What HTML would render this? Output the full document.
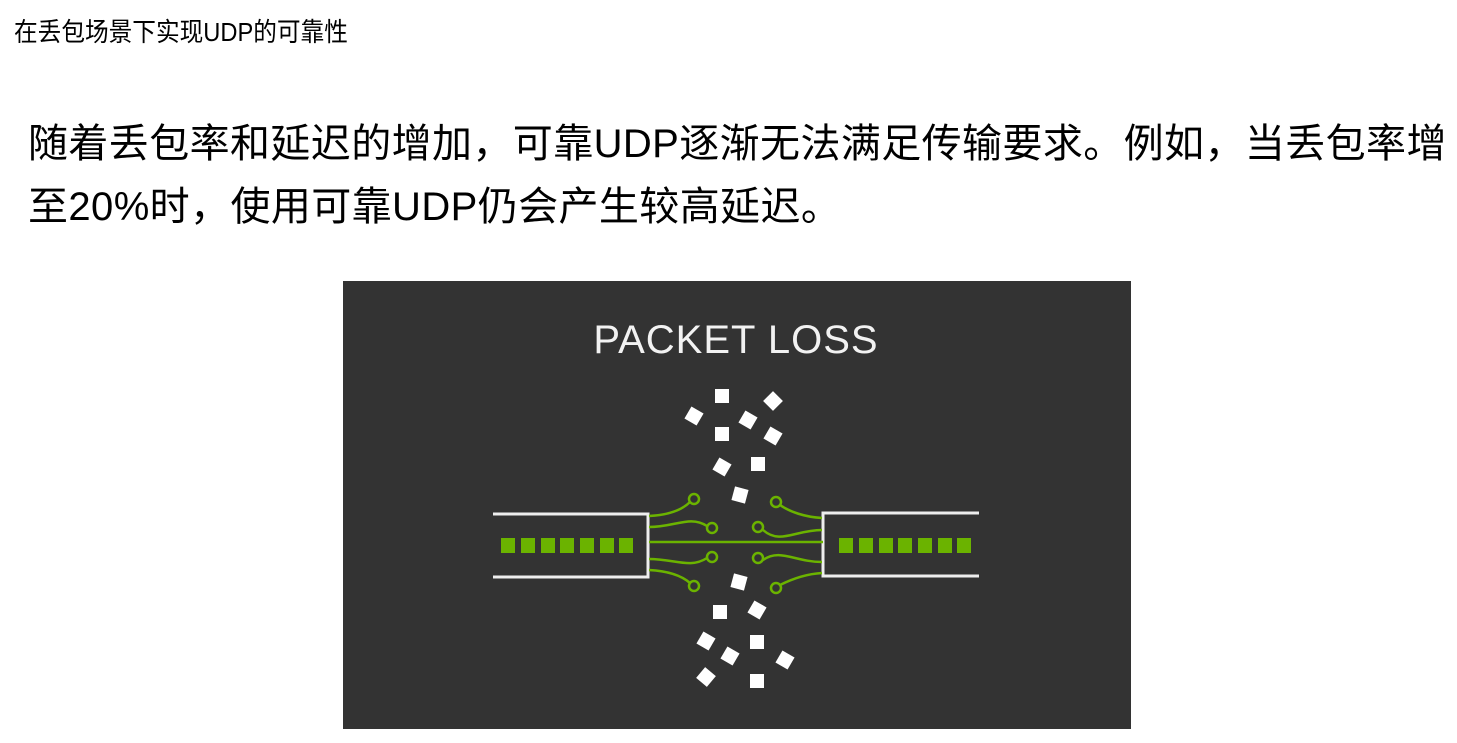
<!DOCTYPE html>
<html><head><meta charset="utf-8"><style>
body{margin:0;width:1457px;height:743px;background:#fff;position:relative;overflow:hidden;font-family:"Liberation Sans","Noto Sans CJK SC",sans-serif;color:#000}
.t{position:absolute;left:14px;top:15px;font-size:26px;line-height:34px;white-space:nowrap;transform:scaleX(0.91);transform-origin:0 0}
.p{position:absolute;left:28px;top:113px;font-size:40px;line-height:63px;white-space:nowrap;letter-spacing:0.4px}
svg{position:absolute;left:343px;top:281px}
</style></head><body>
<div class="t">在丢包场景下实现UDP的可靠性</div>
<div class="p">随着丢包率和延迟的增加，可靠UDP逐渐无法满足传输要求。例如，当丢包率增<br>至20%时，使用可靠UDP仍会产生较高延迟。</div>
<svg width="788" height="448" viewBox="343 281 788 448">
<rect x="343" y="281" width="788" height="448" fill="#333"/>
<text x="736" y="353" text-anchor="middle" font-family="Liberation Sans, sans-serif" font-size="40" fill="#f2f2f2" letter-spacing="1">PACKET LOSS</text>
<g fill="none" stroke="#eee" stroke-width="3">
<path d="M493 514H648V577H493"/>
<path d="M979 513H823V576H979"/>
</g>
<g fill="#6bb300">
<rect x="501" y="538" width="14" height="15"/><rect x="521" y="538" width="14" height="15"/><rect x="541" y="538" width="14" height="15"/><rect x="560" y="538" width="14" height="15"/><rect x="580" y="538" width="14" height="15"/><rect x="600" y="538" width="14" height="15"/><rect x="619" y="538" width="14" height="15"/>
<rect x="839" y="538" width="14" height="15"/><rect x="859" y="538" width="14" height="15"/><rect x="879" y="538" width="14" height="15"/><rect x="898" y="538" width="14" height="15"/><rect x="918" y="538" width="14" height="15"/><rect x="938" y="538" width="14" height="15"/><rect x="957" y="538" width="14" height="15"/>
</g>
<g fill="none" stroke="#6bb300" stroke-width="2.5">
<path d="M649 542H823"/>
<path d="M649 516C668 515 682 510 690 502"/>
<path d="M649 527C675 527 690 515 707 526"/>
<path d="M649 559C675 559 690 569 707 558"/>
<path d="M649 570C668 571 682 576 690 583"/>
<path d="M822 518C805 517 790 512 780 505"/>
<path d="M822 530C795 530 780 545 763 530"/>
<path d="M822 562C795 562 780 548 763 560"/>
<path d="M822 573C805 574 790 580 780 585"/>
<circle cx="694" cy="499" r="5"/><circle cx="712" cy="528" r="5"/><circle cx="712" cy="557" r="5"/><circle cx="694" cy="586" r="5"/>
<circle cx="776" cy="502" r="5"/><circle cx="758" cy="527" r="5"/><circle cx="758" cy="558" r="5"/><circle cx="776" cy="588" r="5"/>
</g>
<g fill="#fff">
<rect x="715" y="389" width="14" height="14"/>
<rect x="687" y="409" width="14" height="14" transform="rotate(30 694 416)"/>
<rect x="741" y="413" width="14" height="14" transform="rotate(30 748 420)"/>
<rect x="766" y="394" width="14" height="14" transform="rotate(45 773 401)"/>
<rect x="715" y="427" width="14" height="14"/>
<rect x="766" y="429" width="14" height="14" transform="rotate(30 773 436)"/>
<rect x="715" y="460" width="14" height="14" transform="rotate(30 722 467)"/>
<rect x="751" y="457" width="14" height="14"/>
<rect x="733" y="488" width="14" height="14" transform="rotate(15 740 495)"/>
<rect x="732" y="575" width="14" height="14" transform="rotate(15 739 582)"/>
<rect x="713" y="605" width="14" height="14"/>
<rect x="750" y="603" width="14" height="14" transform="rotate(30 757 610)"/>
<rect x="699" y="634" width="14" height="14" transform="rotate(30 706 641)"/>
<rect x="750" y="635" width="14" height="14"/>
<rect x="723" y="649" width="14" height="14" transform="rotate(30 730 656)"/>
<rect x="778" y="653" width="14" height="14" transform="rotate(30 785 660)"/>
<rect x="699" y="670" width="14" height="14" transform="rotate(40 706 677)"/>
<rect x="750" y="674" width="14" height="14"/>
</g>
</svg>
</body></html>
